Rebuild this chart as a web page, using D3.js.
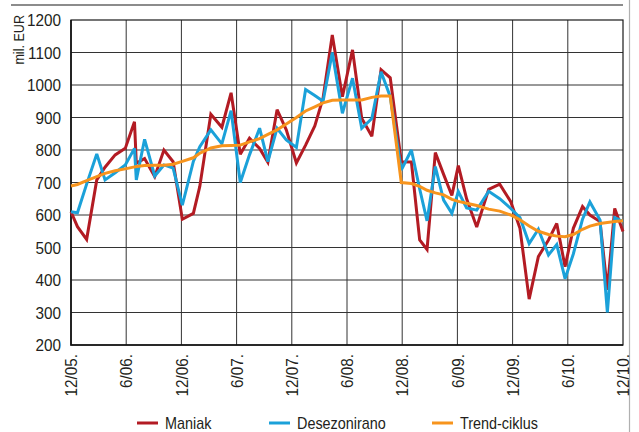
<!DOCTYPE html>
<html>
<head>
<meta charset="utf-8">
<script src="https://cdn.jsdelivr.net/npm/d3@7"></script>
<style>
  html, body { margin: 0; padding: 0; background: #fff; }
  svg { display: block; font-family: "Liberation Sans", Arial, sans-serif; }
</style>
</head>
<body>
<svg id="chart" width="639" height="432"></svg>
<script>
// Axis ticks: months counted from 12/2005
const tickMonths = [0, 6, 12, 18, 24, 30, 36, 42, 48, 54, 60];
const tickLabels = ["12/05.", "6/06.", "12/06.", "6/07.", "12/07.", "6/08.", "12/08.", "6/09.", "12/09.", "6/10.", "12/10."];
const yTicks = [200, 300, 400, 500, 600, 700, 800, 900, 1000, 1100, 1200];

// Observation time, in months since 12/2005
const monthOffset = [0.0, 0.7, 1.7, 2.8, 3.7, 4.8, 5.9, 6.9, 7.1, 8.0,
  9.1, 10.1, 11.1, 12.1, 13.3, 14.0, 15.2, 16.4, 17.4, 18.4,
  19.4, 20.5, 21.4, 22.4, 23.4, 24.5, 25.5, 26.5, 27.4, 28.4,
  29.5, 30.6, 31.6, 32.7, 33.7, 34.7, 35.9, 37.0, 37.9, 38.7,
  39.6, 40.5, 41.4, 42.1, 43.0, 44.1, 45.4, 46.6, 47.8, 48.8,
  49.8, 50.8, 51.9, 52.8, 53.7, 54.6, 55.6, 56.4, 57.5, 58.3,
  59.1, 60.0];

// mil. EUR
const maniak = [610, 564, 525, 708, 747, 785, 805, 887, 759, 774,
  718, 800, 764, 587, 605, 688, 910, 870, 976, 787,
  836, 805, 762, 924, 862, 760, 815, 874, 960, 1154,
  964, 1108, 898, 842, 1047, 1022, 764, 763, 523, 494,
  792, 725, 660, 752, 650, 563, 679, 695, 641, 559,
  341, 472, 523, 574, 441, 559, 626, 600, 580, 370,
  620, 549];

const desezonirano = [610, 607, 695, 788, 708, 730, 754, 805, 708, 833,
  720, 754, 744, 630, 765, 810, 862, 819, 921, 700,
  785, 867, 764, 867, 831, 808, 986, 968, 950, 1100,
  913, 1021, 867, 897, 1041, 964, 738, 800, 680, 582,
  749, 646, 605, 672, 622, 615, 673, 650, 620, 592,
  512, 556, 477, 509, 404, 480, 587, 640, 585, 300,
  592, 580];

const trendCiklus = [689, 694, 706, 718, 728, 736, 742, 748, 749, 752,
  753, 753, 756, 765, 776, 790, 806, 813, 814, 815,
  825, 835, 848, 862, 880, 900, 920, 933, 945, 953,
  954, 954, 954, 962, 966, 966, 700, 697, 688, 676,
  668, 662, 648, 642, 636, 629, 618, 612, 600, 585,
  566, 550, 540, 535, 533, 540, 556, 566, 574, 577,
  580, 582];

const seriesNames = ["Maniak", "Desezonirano", "Trend-ciklus"];
const seriesValues = [maniak, desezonirano, trendCiklus];
const seriesColors = ["#b31b23", "#1ba1d9", "#f7941d"];

const svg = d3.select("#chart");
const plot = { left: 71, right: 623, top: 20, bottom: 345 };
const textColor = "#231f20";
const narrow = 0.9;

const x = d3.scaleLinear().domain([0, 60]).range([plot.left, plot.right]);
const y = d3.scaleLinear().domain([200, 1200]).range([plot.bottom, plot.top]);

// top rule and right edge
svg.append("line")
  .attr("x1", 11).attr("x2", plot.right).attr("y1", 5).attr("y2", 5)
  .attr("stroke", "#8c8c8c").attr("stroke-width", 2);
svg.append("line")
  .attr("x1", 629.5).attr("x2", 629.5).attr("y1", 0).attr("y2", 432)
  .attr("stroke", "#b0b0b0").attr("stroke-width", 1.2);

// grid
const grid = svg.append("g");
grid.selectAll("line.h").data(yTicks.slice(1, -1)).join("line")
  .attr("x1", plot.left).attr("x2", plot.right)
  .attr("y1", d => y(d)).attr("y2", d => y(d))
  .attr("stroke", "#333").attr("stroke-width", 1);
grid.selectAll("line.v").data(tickMonths.slice(1, -1)).join("line")
  .attr("y1", plot.top).attr("y2", plot.bottom)
  .attr("x1", d => x(d)).attr("x2", d => x(d))
  .attr("stroke", "#333").attr("stroke-width", 1);

// frame
svg.append("rect")
  .attr("x", plot.left).attr("y", plot.top)
  .attr("width", plot.right - plot.left).attr("height", plot.bottom - plot.top)
  .attr("fill", "none").attr("stroke", "#1a1a1a").attr("stroke-width", 1.2);
svg.append("path")
  .attr("d", `M${plot.left},${plot.top}V${plot.bottom}H${plot.right}`)
  .attr("fill", "none").attr("stroke", "#111").attr("stroke-width", 1.6);

// y tick labels
svg.append("g").selectAll("text").data(yTicks).join("text")
  .attr("transform", d => `translate(61,${y(d)}) scale(${narrow},1)`)
  .attr("text-anchor", "end").attr("dy", "0.36em")
  .attr("font-size", 17).attr("fill", textColor)
  .text(d => d);

// x tick labels (vertical)
svg.append("g").selectAll("text").data(tickMonths).join("text")
  .attr("transform", d => `translate(${x(d)},354) rotate(-90) scale(${narrow},1)`)
  .attr("text-anchor", "end").attr("dy", "0.36em")
  .attr("font-size", 17).attr("fill", textColor)
  .text((d, i) => tickLabels[i]);

// axis title
svg.append("text")
  .attr("transform", `translate(18.5,15) rotate(-90) scale(${narrow},1)`)
  .attr("text-anchor", "end").attr("dy", "0.36em")
  .attr("font-size", 14).attr("fill", textColor)
  .text("mil. EUR");

// series lines
const line = d3.line()
  .x((d, i) => x(monthOffset[i]))
  .y(d => y(d));
svg.append("g").selectAll("path").data(seriesValues).join("path")
  .attr("d", d => line(d))
  .attr("fill", "none")
  .attr("stroke", (d, i) => seriesColors[i])
  .attr("stroke-width", 3)
  .attr("stroke-linejoin", "miter")
  .attr("stroke-miterlimit", 3);

// legend
const legendX = [137, 269, 432];
const legend = svg.append("g").selectAll("g").data(seriesNames).join("g")
  .attr("transform", (d, i) => `translate(${legendX[i]},423)`);
legend.append("line")
  .attr("x1", 0).attr("x2", 21).attr("y1", 0).attr("y2", 0)
  .attr("stroke", (d, i) => seriesColors[i]).attr("stroke-width", 3);
legend.append("text")
  .attr("transform", `translate(28,5.5) scale(${narrow},1)`)
  .attr("font-size", 16).attr("fill", textColor)
  .text(d => d);
</script>
</body>
</html>
